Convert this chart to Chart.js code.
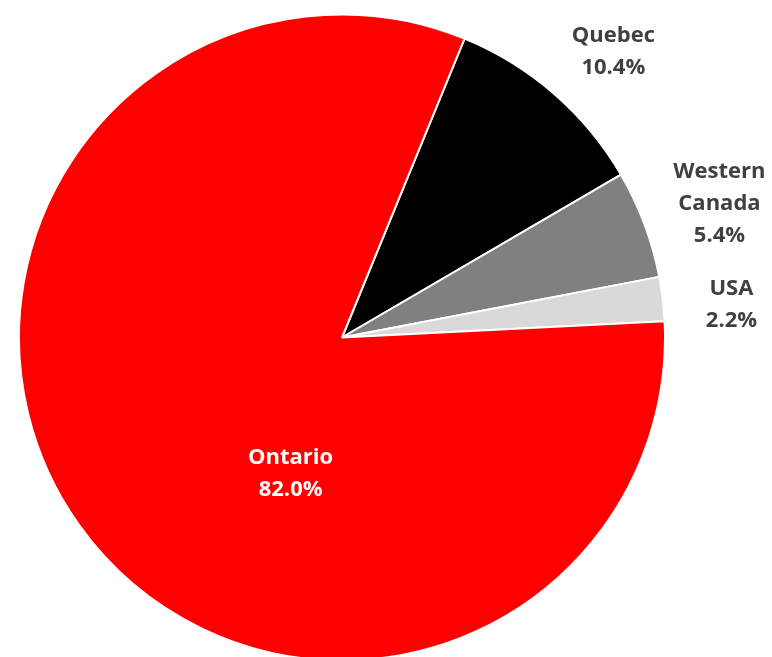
<!DOCTYPE html>
<html lang="en">
  <head>
    <meta charset="UTF-8" />
    <title>Sales by Region</title>
    <script src="https://cdn.jsdelivr.net/npm/chart.js"></script>
    <style>
      body {
        margin: 0;
        padding: 0;
        background: #fff;
        overflow: hidden;
      }
      .chart-container {
        position: relative;
        width: 772px;
        height: 662px;
      }
    </style>
  </head>
  <body>
    <div class="chart-container">
      <canvas id="pieChart"></canvas>
    </div>

    <script>
      // Data
      const regions = ["Quebec", "Western Canada", "USA", "Ontario"];
      const shares = [10.4, 5.4, 2.2, 82.0];
      const sliceColors = ["#000000", "#808080", "#D9D9D9", "#FF0000"];

      // label placement: angle offset (deg from slice middle) and radius factor
      const labelPlacement = [
        { shift: 2.5, r: 1.22, lines: ["Quebec"], color: "#404040" },
        { shift: 1, r: 1.24, lines: ["Western", "Canada"], color: "#404040" },
        { shift: 2, r: 1.21, lines: ["USA"], color: "#404040" },
        { shift: -34, r: 0.45, lines: ["Ontario"], color: "#FFFFFF" },
      ];

      const sliceLabels = {
        id: "sliceLabels",
        afterDatasetsDraw(chart) {
          const ctx = chart.ctx;
          const meta = chart.getDatasetMeta(0);
          ctx.save();
          ctx.font = "bold 22px 'Open Sans', sans-serif";
          ctx.textAlign = "center";
          ctx.textBaseline = "middle";
          meta.data.forEach((arc, i) => {
            const p = labelPlacement[i];
            const mid = (arc.startAngle + arc.endAngle) / 2 + (p.shift * Math.PI) / 180;
            const rad = arc.outerRadius * p.r;
            const cx = arc.x + Math.cos(mid) * rad;
            const cy = arc.y + Math.sin(mid) * rad;
            const lines = p.lines.concat([shares[i].toFixed(1) + "%"]);
            const lh = 32;
            const top = cy - ((lines.length - 1) * lh) / 2;
            ctx.fillStyle = p.color;
            lines.forEach((t, k) => ctx.fillText(t, cx, top + k * lh));
          });
          ctx.restore();
        },
      };

      const ctx = document.getElementById("pieChart").getContext("2d");
      new Chart(ctx, {
        type: "pie",
        data: {
          labels: regions,
          datasets: [
            {
              data: shares,
              backgroundColor: sliceColors,
              borderColor: "#FFFFFF",
              borderWidth: 2,
            },
          ],
        },
        options: {
          responsive: true,
          maintainAspectRatio: false,
          animation: false,
          rotation: 22.3,
          layout: {
            padding: { left: 18, right: 106, top: 13, bottom: 0 },
          },
          plugins: {
            legend: { display: false },
            tooltip: { enabled: false },
          },
        },
        plugins: [sliceLabels],
      });
    </script>
  </body>
</html>
